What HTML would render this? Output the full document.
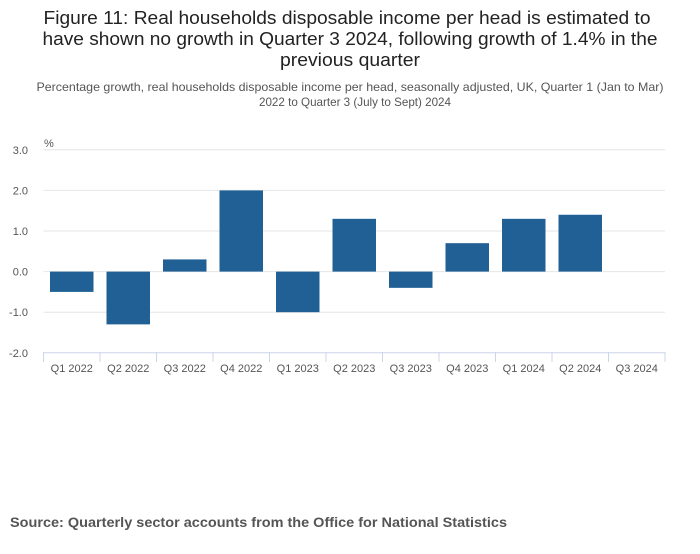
<!DOCTYPE html>
<html><head><meta charset="utf-8"><style>
body{margin:0;width:700px;height:549px;background:#fff;font-family:"Liberation Sans","DejaVu Sans",sans-serif;overflow:hidden}
</style></head><body>
<svg width="700" height="549">
<text x="347" y="24" text-anchor="middle" font-size="18" fill="#222" textLength="607" lengthAdjust="spacingAndGlyphs">Figure 11: Real households disposable income per head is estimated to</text>
<text x="350" y="45" text-anchor="middle" font-size="18" fill="#222" textLength="615" lengthAdjust="spacingAndGlyphs">have shown no growth in Quarter 3 2024, following growth of 1.4% in the</text>
<text x="350" y="66" text-anchor="middle" font-size="18" fill="#222" textLength="140" lengthAdjust="spacingAndGlyphs">previous quarter</text>
<text x="350" y="91" text-anchor="middle" font-size="12" fill="#555" textLength="627" lengthAdjust="spacingAndGlyphs">Percentage growth, real households disposable income per head, seasonally adjusted, UK, Quarter 1 (Jan to Mar)</text>
<text x="355" y="106" text-anchor="middle" font-size="12" fill="#555" textLength="192" lengthAdjust="spacingAndGlyphs">2022 to Quarter 3 (July to Sept) 2024</text>
<text x="44" y="147" font-size="11" fill="#555">%</text>
<g id="grid"></g><g id="bars"></g><g id="xaxis"></g>
<text x="10" y="527" font-size="14" font-weight="bold" fill="#555" textLength="497" lengthAdjust="spacingAndGlyphs">Source: Quarterly sector accounts from the Office for National Statistics</text>
</svg>
<script>
const categories=["Q1 2022","Q2 2022","Q3 2022","Q4 2022","Q1 2023","Q2 2023","Q3 2023","Q4 2023","Q1 2024","Q2 2024","Q3 2024"];
const values=[-0.5,-1.3,0.3,2.0,-1.0,1.3,-0.4,0.7,1.3,1.4,0.0];
const yTicks=[3,2,1,0,-1,-2];
const yTickLabels=["3.0","2.0","1.0","0.0","-1.0","-2.0"];
const NS="http://www.w3.org/2000/svg";
const L=43.5,R=665,Y0=271.6,PU=40.6;
const band=(R-L)/categories.length;
const y=v=>Y0-v*PU;
const x=i=>L+i*band;
function mk(t,a,p){const e=document.createElementNS(NS,t);for(const k in a)e.setAttribute(k,a[k]);p.appendChild(e);return e;}
const g=document.getElementById('grid'),b=document.getElementById('bars'),xa=document.getElementById('xaxis');
yTicks.forEach((v,i)=>{
 const ln=mk('line',{x1:L,x2:R,y1:y(v),y2:y(v),stroke:v===-2?'#ccd6eb':'#e6e6e6','stroke-width':1},g);
 
 
 const t=mk('text',{x:28,y:y(v)+4,'text-anchor':'end','font-size':11,fill:'#555'},g);
 t.textContent=yTickLabels[i];
 
 
});
categories.forEach((c,i)=>{
 const v=values[i];
 if(v!==0){
  const r=mk('rect',{x:x(i)+6.5,width:band-13,y:Math.min(y(v),Y0),height:Math.abs(v*PU),fill:'#206095'},b);
  
  
 }
 const tk=mk('line',{x1:x(i),x2:x(i),y1:352,y2:362,stroke:'#ccd6eb'},xa);
 
 
 const t=mk('text',{x:x(i)+band/2,y:372,'text-anchor':'middle','font-size':11,fill:'#555'},xa);
 t.textContent=c;
 
 
});
const tk=mk('line',{x1:R,x2:R,y1:352,y2:362,stroke:'#ccd6eb'},xa);


</script>
</body></html>
